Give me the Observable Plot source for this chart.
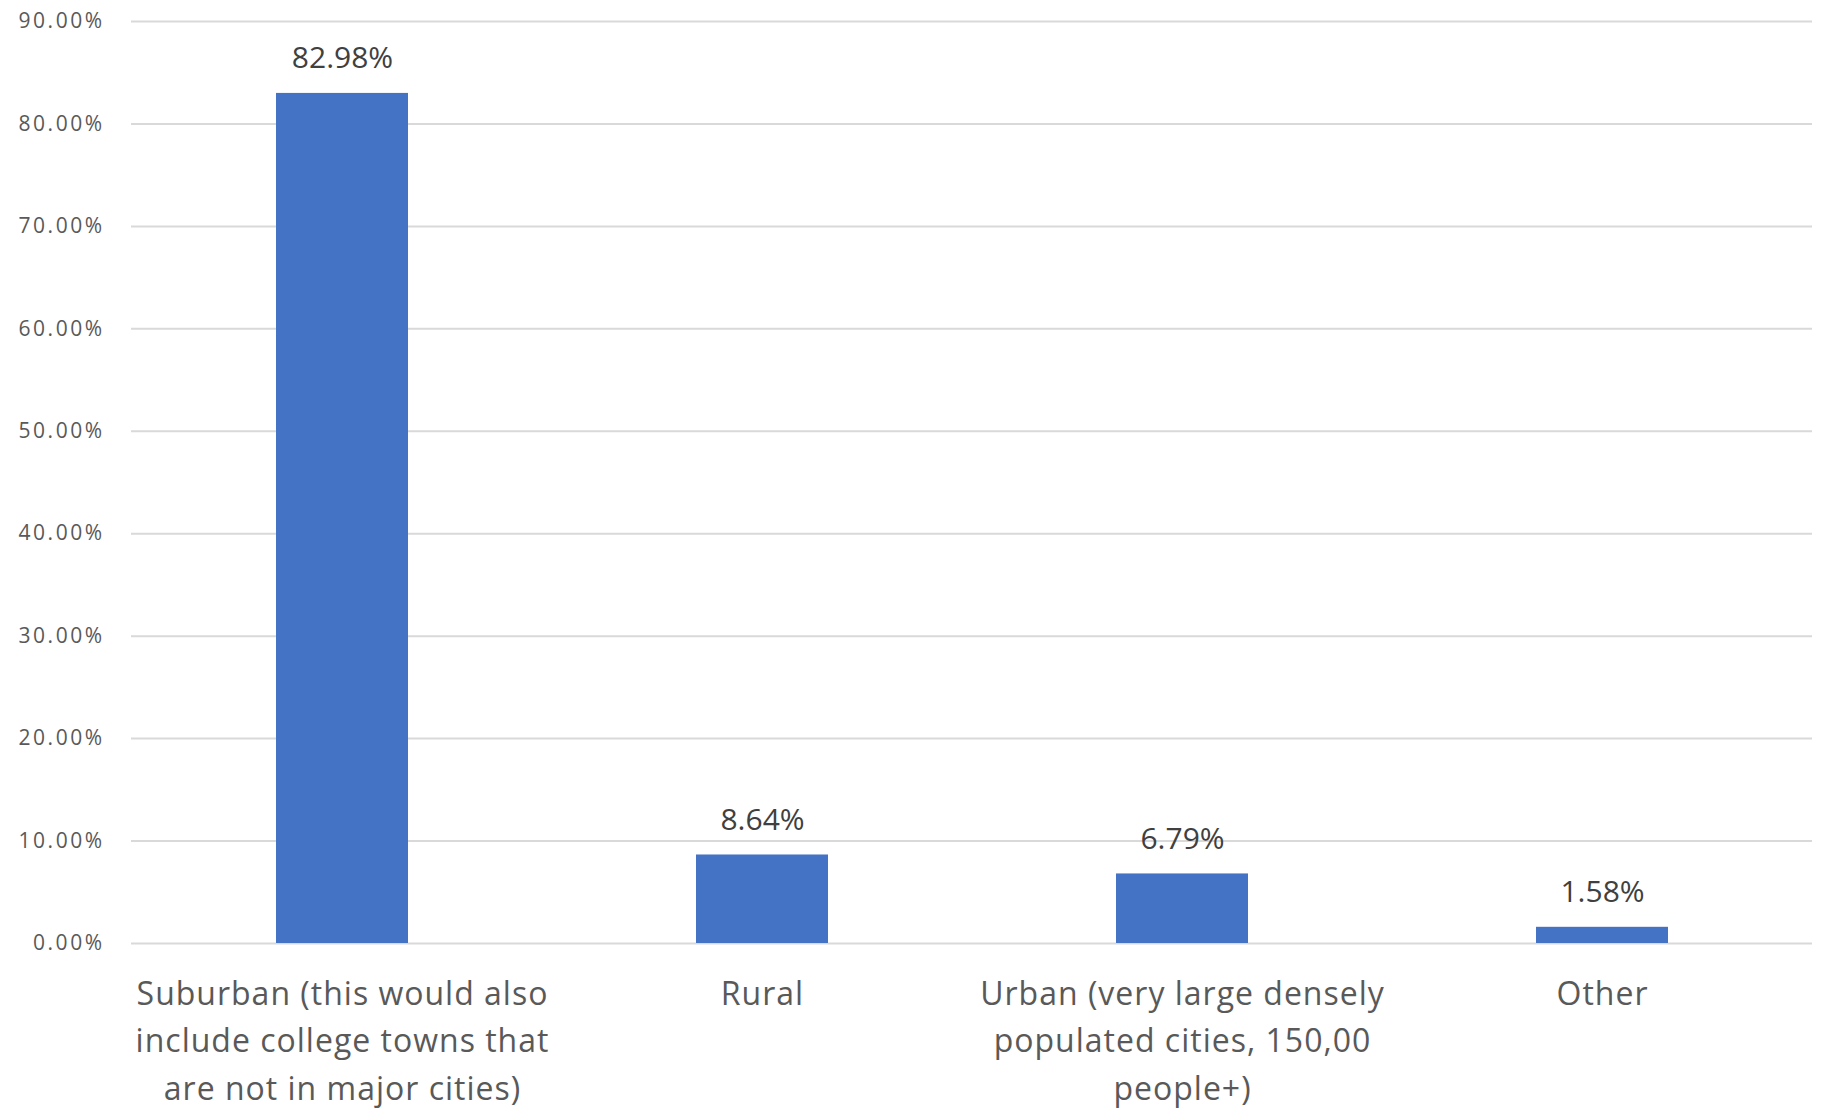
<!DOCTYPE html>
<html>
<head>
<meta charset="utf-8">
<script src="https://cdn.jsdelivr.net/npm/d3@7"></script>
<script src="https://cdn.jsdelivr.net/npm/@observablehq/plot@0.6"></script>
<style>
  html, body { margin: 0; padding: 0; background: #ffffff; }
  #chart svg { display: block; }
  g[aria-label="x-axis tick label"] text { letter-spacing: 1px; }
  g[aria-label="y-axis tick label"] text { letter-spacing: 2.5px; }
</style>
</head>
<body>
<div id="chart"></div>
<script>
const categories = [
  "Suburban (this would also include college towns that are not in major cities)",
  "Rural",
  "Urban (very large densely populated cities, 150,00 people+)",
  "Other"
];
const categoryLabels = [
  "Suburban (this would also\ninclude college towns that\nare not in major cities)",
  "Rural",
  "Urban (very large densely\npopulated cities, 150,00\npeople+)",
  "Other"
];
const values = [82.98, 8.64, 6.79, 1.58];
const yTicks = [0, 10, 20, 30, 40, 50, 60, 70, 80, 90];

const data = categories.map((c, i) => ({category: c, value: values[i]}));
const labelOf = new Map(categories.map((c, i) => [c, categoryLabels[i]]));

const font = "'Open Sans', Lato, sans-serif";

const chart = Plot.plot({
  width: 1839,
  height: 1109,
  marginLeft: 131,
  marginRight: 27,
  marginTop: 21,
  marginBottom: 166,
  style: {fontFamily: font, background: "#ffffff"},
  x: {domain: categories, paddingInner: 0.686, paddingOuter: 0.343, label: null},
  y: {domain: [0, 90], label: null},
  marks: [
    Plot.gridY(yTicks, {stroke: "#d9d9d9", strokeOpacity: 1, strokeWidth: 2}),
    Plot.barY(data, {x: "category", y: "value", fill: "#4472c4"}),
    Plot.text(data, {
      x: "category", y: "value",
      text: d => d.value.toFixed(2) + "%",
      dy: -35, fontSize: 30, fill: "#404040"
    }),
    Plot.axisY(yTicks, {
      tickSize: 0, tickPadding: 27, fontSize: 21, fill: "#595959",
      tickFormat: d => d.toFixed(2) + "%", label: null
    }),
    Plot.axisX({
      tickSize: 0, tickPadding: 28, fontSize: 32, lineHeight: 1.48, fill: "#595959",
      tickFormat: d => labelOf.get(d), label: null
    })
  ]
});
document.getElementById("chart").appendChild(chart);
</script>
</body>
</html>
